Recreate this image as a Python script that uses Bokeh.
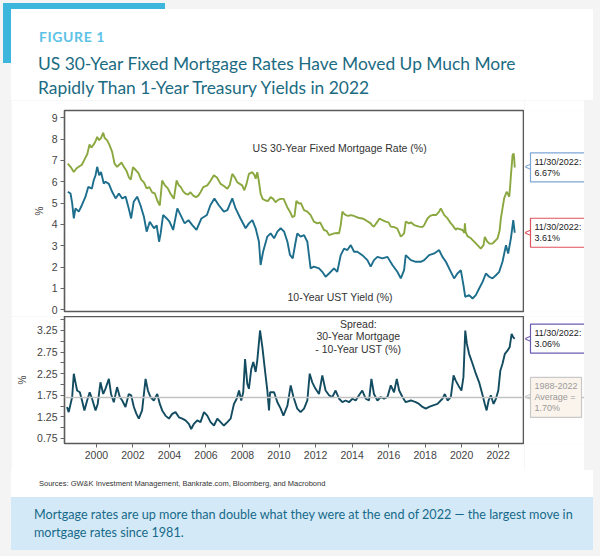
from bokeh.plotting import figure
from bokeh.models import Range1d, FixedTicker, Label, Span, Div
from bokeh.layouts import column, row
from bokeh.embed import file_html
from bokeh.resources import INLINE

# ---------------- data ----------------
mort_dates = [1998.43, 1998.58, 1998.76, 1998.90, 1999.03, 1999.20, 1999.35, 1999.50, 1999.62, 1999.72,
              1999.85, 1999.95, 2000.04, 2000.15, 2000.25, 2000.37, 2000.45, 2000.58, 2000.70, 2000.86,
              2000.99, 2001.13, 2001.25, 2001.38, 2001.50, 2001.65, 2001.78, 2001.88, 2002.00, 2002.15,
              2002.30, 2002.45, 2002.60, 2002.75, 2002.90, 2003.05, 2003.20, 2003.33, 2003.47, 2003.60,
              2003.75, 2003.90, 2004.05, 2004.24, 2004.39, 2004.50, 2004.62, 2004.75, 2004.88, 2005.02,
              2005.15, 2005.30, 2005.45, 2005.58, 2005.70, 2005.85, 2006.07, 2006.25, 2006.43, 2006.60,
              2006.80, 2006.98, 2007.17, 2007.30, 2007.44, 2007.58, 2007.71, 2007.85, 2007.98, 2008.10,
              2008.22, 2008.35, 2008.54, 2008.66, 2008.72, 2008.81, 2008.90, 2008.99, 2009.10, 2009.26,
              2009.40, 2009.54, 2009.68, 2009.81, 2009.95, 2010.09, 2010.25, 2010.45, 2010.60, 2010.73,
              2010.85, 2010.95, 2011.09, 2011.20, 2011.37, 2011.55, 2011.73, 2011.91, 2012.10, 2012.25,
              2012.46, 2012.60, 2012.74, 2012.90, 2013.01, 2013.19, 2013.29, 2013.38, 2013.47, 2013.56,
              2013.65, 2013.80, 2013.93, 2014.10, 2014.20, 2014.40, 2014.56, 2014.75, 2015.02, 2015.10,
              2015.20, 2015.39, 2015.50, 2015.66, 2015.84, 2016.00, 2016.12, 2016.30, 2016.48, 2016.67,
              2016.76, 2016.85, 2016.94, 2017.12, 2017.22, 2017.40, 2017.67, 2017.86, 2017.95, 2018.13,
              2018.28, 2018.40, 2018.60, 2018.77, 2018.86, 2018.95, 2019.04, 2019.23, 2019.41, 2019.50,
              2019.68, 2019.77, 2020.05, 2020.15, 2020.18, 2020.22, 2020.32, 2020.51, 2020.78, 2020.96,
              2021.05, 2021.20, 2021.27, 2021.40, 2021.51, 2021.69, 2021.79, 2021.97, 2022.08, 2022.15,
              2022.25, 2022.33, 2022.43, 2022.48, 2022.55, 2022.61, 2022.66, 2022.70, 2022.75, 2022.79,
              2022.85, 2022.88, 2022.91]
mort_vals = [6.85, 6.70, 6.46, 6.62, 6.70, 6.80, 7.05, 7.30, 7.75, 7.60,
             7.75, 7.90, 8.10, 7.95, 8.05, 8.30, 8.05, 7.95, 7.75, 7.40,
             6.85, 6.70, 6.80, 6.90, 6.70, 6.50, 6.20, 6.10, 6.68, 6.55,
             6.40, 6.10, 5.97, 5.69, 5.75, 5.50, 5.45, 5.12, 4.89, 6.06,
             5.83, 5.70, 5.45, 5.20, 6.06, 5.85, 5.75, 5.55, 5.44, 5.40,
             5.51, 5.35, 5.28, 5.35, 5.51, 5.75, 5.83, 6.05, 6.30, 6.20,
             5.90, 5.80, 5.67, 5.85, 6.37, 6.20, 5.98, 5.90, 5.83, 5.60,
             5.90, 6.37, 6.45, 6.30, 6.14, 6.45, 6.00, 5.44, 5.20, 5.12,
             5.10, 5.28, 5.20, 5.04, 5.15, 5.20, 5.20, 4.81, 4.60, 4.34,
             4.40, 5.10, 4.98, 5.00, 4.67, 4.60, 4.44, 4.13, 4.05, 4.10,
             3.74, 3.70, 3.50, 3.55, 3.58, 3.60, 3.58, 3.97, 4.60, 4.50,
             4.44, 4.40, 4.44, 4.40, 4.36, 4.30, 4.28, 4.20, 4.05, 3.95,
             3.90, 4.13, 4.28, 4.20, 4.13, 4.10, 3.90, 3.88, 3.80, 3.43,
             3.50, 3.58, 4.13, 4.05, 4.10, 3.97, 3.90, 3.88, 3.97, 4.28,
             4.40, 4.44, 4.44, 4.60, 4.75, 4.60, 4.45, 4.28, 4.05, 3.97,
             3.75, 3.82, 3.74, 3.60, 4.05, 3.65, 3.45, 3.35, 3.11, 2.95,
             2.87, 3.03, 3.42, 3.20, 3.11, 3.10, 3.19, 3.35, 3.70, 4.28,
             4.80, 5.22, 5.45, 5.53, 5.40, 5.30, 5.80, 6.30, 6.80, 7.25,
             7.33, 7.10, 6.67]

ust_dates = [1998.43, 1998.58, 1998.67, 1998.76, 1998.85, 1999.03, 1999.20, 1999.40, 1999.55, 1999.75,
             1999.85, 1999.95, 2000.04, 2000.15, 2000.25, 2000.40, 2000.50, 2000.68, 2000.86, 2001.05,
             2001.23, 2001.41, 2001.60, 2001.77, 2001.90, 2002.04, 2002.23, 2002.41, 2002.60, 2002.75,
             2002.92, 2003.15, 2003.30, 2003.43, 2003.52, 2003.65, 2003.85, 2004.00, 2004.20, 2004.43,
             2004.61, 2004.83, 2005.04, 2005.25, 2005.48, 2005.75, 2006.05, 2006.24, 2006.46, 2006.70,
             2006.98, 2007.17, 2007.44, 2007.62, 2007.89, 2008.17, 2008.35, 2008.54, 2008.72, 2008.90,
             2008.99, 2009.13, 2009.36, 2009.54, 2009.73, 2009.91, 2010.09, 2010.28, 2010.46, 2010.60,
             2010.75, 2010.91, 2011.00, 2011.18, 2011.37, 2011.55, 2011.73, 2011.91, 2012.19, 2012.37,
             2012.55, 2012.74, 2013.01, 2013.19, 2013.38, 2013.56, 2013.74, 2013.93, 2014.11, 2014.29,
             2014.56, 2014.84, 2015.02, 2015.20, 2015.39, 2015.66, 2015.94, 2016.21, 2016.48, 2016.67,
             2016.85, 2016.94, 2017.22, 2017.49, 2017.76, 2017.95, 2018.22, 2018.50, 2018.77, 2018.95,
             2019.14, 2019.41, 2019.59, 2019.77, 2019.96, 2020.10, 2020.20, 2020.41, 2020.60, 2020.78,
             2020.96, 2021.15, 2021.33, 2021.51, 2021.69, 2021.88, 2022.06, 2022.24, 2022.43, 2022.55,
             2022.70, 2022.83, 2022.91]
ust_vals = [5.53, 5.45, 5.00, 4.28, 4.75, 4.60, 4.90, 5.30, 5.76, 5.68,
            6.07, 6.30, 6.70, 6.30, 6.46, 5.92, 6.00, 5.90, 5.53, 5.22,
            5.45, 5.22, 5.30, 4.75, 4.28, 5.06, 5.30, 4.90, 4.36, 3.66,
            4.13, 3.82, 3.95, 3.19, 3.60, 4.44, 4.28, 4.13, 3.74, 4.75,
            4.44, 4.05, 4.20, 3.97, 3.74, 4.28, 4.44, 4.90, 5.22, 4.90,
            4.60, 4.67, 5.22, 4.75, 4.28, 3.82, 4.05, 4.20, 3.82, 3.19,
            2.10, 2.73, 3.43, 3.58, 3.35, 3.66, 3.82, 3.66, 3.19, 2.57,
            2.41, 3.19, 3.58, 3.43, 3.50, 3.19, 1.94, 2.02, 1.94, 1.78,
            1.55, 1.70, 1.94, 1.78, 2.56, 2.87, 2.80, 3.03, 2.72, 2.72,
            2.56, 2.33, 2.02, 2.33, 2.48, 2.41, 2.48, 2.10, 1.78, 1.47,
            1.86, 2.56, 2.33, 2.25, 2.25, 2.33, 2.56, 2.64, 2.80, 2.48,
            2.25, 1.78, 1.47, 1.70, 1.85, 1.16, 0.61, 0.69, 0.53, 0.69,
            1.00, 1.31, 1.70, 1.55, 1.47, 1.62, 1.78, 2.25, 3.03, 2.64,
            3.35, 4.20, 3.61]

spread_dates = [1998.39, 1998.48, 1998.67, 1998.76, 1998.85, 1998.94, 1999.09, 1999.21, 1999.34, 1999.49,
                1999.63, 1999.76, 1999.95, 2000.07, 2000.22, 2000.37, 2000.49, 2000.68, 2000.80, 2000.95,
                2001.13, 2001.28, 2001.41, 2001.59, 2001.77, 2001.90, 2002.05, 2002.19, 2002.32, 2002.50,
                2002.69, 2002.82, 2002.96, 2003.14, 2003.33, 2003.47, 2003.60, 2003.78, 2003.97, 2004.15,
                2004.33, 2004.52, 2004.70, 2004.88, 2005.06, 2005.19, 2005.34, 2005.52, 2005.70, 2005.89,
                2006.07, 2006.25, 2006.44, 2006.62, 2006.80, 2006.98, 2007.17, 2007.35, 2007.53, 2007.68,
                2007.81, 2007.93, 2008.04, 2008.14, 2008.26, 2008.35, 2008.48, 2008.59, 2008.72, 2008.81,
                2008.96, 2009.09, 2009.21, 2009.36, 2009.45, 2009.51, 2009.73, 2009.91, 2010.09, 2010.24,
                2010.46, 2010.64, 2010.79, 2011.00, 2011.18, 2011.37, 2011.55, 2011.68, 2011.82, 2012.00,
                2012.19, 2012.37, 2012.55, 2012.74, 2012.92, 2013.10, 2013.29, 2013.47, 2013.65, 2013.83,
                2014.02, 2014.20, 2014.38, 2014.56, 2014.75, 2014.93, 2015.06, 2015.20, 2015.39, 2015.57,
                2015.75, 2015.94, 2016.12, 2016.30, 2016.45, 2016.58, 2016.76, 2016.94, 2017.22, 2017.49,
                2017.67, 2017.86, 2018.04, 2018.22, 2018.40, 2018.68, 2018.95, 2019.08, 2019.23, 2019.41,
                2019.56, 2019.68, 2019.87, 2019.99, 2020.10, 2020.20, 2020.29, 2020.41, 2020.60, 2020.78,
                2020.96, 2021.15, 2021.27, 2021.37, 2021.48, 2021.60, 2021.75, 2021.88, 2022.01, 2022.12,
                2022.24, 2022.37, 2022.52, 2022.63, 2022.74, 2022.83, 2022.91]
spread_vals = [1.48, 1.36, 1.71, 2.25, 2.05, 1.86, 1.82, 1.63, 1.40, 1.63,
               1.82, 1.67, 1.40, 1.55, 2.05, 1.78, 1.90, 2.13, 1.78, 1.59,
               1.94, 1.71, 1.63, 1.48, 1.78, 1.75, 1.48, 1.32, 1.21, 1.40,
               2.13, 1.86, 1.71, 1.63, 1.78, 1.55, 1.40, 1.28, 1.21, 1.32,
               1.36, 1.24, 1.21, 1.17, 1.09, 0.97, 1.09, 1.17, 1.13, 1.36,
               1.28, 1.13, 1.05, 1.21, 1.13, 1.05, 1.13, 1.21, 1.55, 1.67,
               1.86, 1.63, 1.82, 2.59, 2.02, 1.90, 2.36, 2.52, 2.29, 2.56,
               3.25, 2.86, 2.40, 1.86, 1.40, 1.82, 1.82, 1.59, 1.44, 1.28,
               1.51, 1.98, 1.71, 1.44, 1.36, 1.44, 1.63, 2.25, 2.05, 1.90,
               1.78, 2.21, 1.86, 1.75, 1.71, 1.86, 1.67, 1.59, 1.63, 1.59,
               1.67, 1.63, 1.75, 1.86, 1.67, 1.63, 2.13, 1.78, 1.63, 1.71,
               1.67, 1.71, 1.98, 1.82, 2.13, 1.86, 1.71, 1.59, 1.63, 1.59,
               1.55, 1.48, 1.44, 1.48, 1.51, 1.55, 1.67, 1.78, 1.63, 1.71,
               2.21, 2.09, 1.94, 1.86, 2.17, 3.25, 2.94, 2.71, 2.48, 2.25,
               2.05, 1.75, 1.55, 1.40, 1.63, 1.75, 1.55, 1.67, 1.86, 2.32,
               2.48, 2.71, 2.79, 2.86, 3.17, 3.09, 3.06]

spread_avg = 1.70
avg_period = "1988-2022"
last_date_text = "11/30/2022"
x_ticks = [2000, 2002, 2004, 2006, 2008, 2010, 2012, 2014, 2016, 2018, 2020, 2022]
top_ticks = [0, 1, 2, 3, 4, 5, 6, 7, 8, 9]
spread_ticks = [0.75, 1.25, 1.75, 2.25, 2.75, 3.25]
spread_minor = [1.0, 1.5, 2.0, 2.5, 3.0, 3.5]

FONT = "Liberation Sans"
C_MORT = "#8aa83f"
C_UST = "#1c6e8c"
C_SPREAD = "#134c60"
FRAME = "#5a5a5a"

x_range = Range1d(1998.25, 2023.39)
top_range = Range1d(-0.08, 9.34)
spread_range = Range1d(0.634, 3.574)


def base_fig(height, y_range, top, bottom, with_x):
    p = figure(width=513, height=height, x_range=x_range, y_range=y_range,
               output_backend="svg", toolbar_location=None,
               x_axis_location="below" if with_x else None,
               min_border_left=53, min_border_right=1,
               min_border_top=top, min_border_bottom=bottom,
               background_fill_color="white", border_fill_color="white",
               outline_line_color=FRAME, outline_line_width=1.6)
    p.margin = (0, 0, 0, 11)
    p.xgrid.visible = False
    p.ygrid.visible = False
    for ax in p.axis:
        ax.axis_line_color = None
        ax.major_tick_in = 0
        ax.major_tick_out = 4
        ax.minor_tick_in = 0
        ax.minor_tick_out = 4
        ax.major_tick_line_color = "#666666"
        ax.minor_tick_line_color = "#666666"
        ax.major_label_text_font = FONT
        ax.major_label_text_font_size = "10.5px"
        ax.major_label_text_color = "#444444"
        ax.major_label_standoff = 3
        ax.axis_label_text_font = FONT
        ax.axis_label_text_font_size = "10px"
        ax.axis_label_text_font_style = "normal"
        ax.axis_label_text_color = "#444444"
    return p


def side_fig(height, y_range, top, bottom):
    s = figure(width=60, height=height, x_range=Range1d(0, 60), y_range=y_range,
               output_backend="svg", toolbar_location=None,
               x_axis_location=None, y_axis_location=None,
               min_border_left=0, min_border_right=0,
               min_border_top=top, min_border_bottom=bottom,
               background_fill_color="white", border_fill_color="white",
               outline_line_color=None)
    s.margin = (0, 16, 0, 0)
    s.xgrid.visible = False
    s.ygrid.visible = False
    return s


def callout(s, y, text, border, fill="white", color="#222222"):
    s.add_layout(Label(x=0, y=y, x_offset=0, text="<", anchor="center_left",
                       text_font=FONT, text_font_size="12px", text_color=border))
    s.add_layout(Label(x=0, y=y, x_offset=6, text=text, anchor="center_left",
                       text_font=FONT, text_font_size="9px", text_color=color,
                       text_line_height=1.1, padding=4,
                       border_line_color=border, border_line_width=1.2,
                       background_fill_color=fill))


# ---------------- top panel ----------------
p1 = base_fig(216, top_range, 10, 5, False)
p1.yaxis.ticker = FixedTicker(ticks=top_ticks, minor_ticks=[])
p1.yaxis.axis_label = "%"
p1.yaxis.axis_label_standoff = 4
p1.line(mort_dates, mort_vals, line_color=C_MORT, line_width=1.9)
p1.line(ust_dates, ust_vals, line_color=C_UST, line_width=1.9)
p1.add_layout(Label(x=2013.32, y=7.56, text="US 30-Year Fixed Mortgage Rate (%)",
                    text_align="center", text_baseline="middle", text_font=FONT,
                    text_font_size="10.5px", text_color="#333333"))
p1.add_layout(Label(x=2013.35, y=0.62, text="10-Year UST Yield (%)",
                    text_align="center", text_baseline="middle", text_font=FONT,
                    text_font_size="10.5px", text_color="#333333"))
s1 = side_fig(216, top_range, 10, 5)
callout(s1, mort_vals[-1], f"{last_date_text}:\n{mort_vals[-1]:.2f}%", "#7ea6d6")
callout(s1, ust_vals[-1], f"{last_date_text}:\n{ust_vals[-1]:.2f}%", "#e0525e")

# ---------------- bottom panel ----------------
p2 = base_fig(154, spread_range, 0, 27, True)
p2.xaxis.ticker = FixedTicker(ticks=x_ticks, minor_ticks=[])
p2.yaxis.ticker = FixedTicker(ticks=spread_ticks, minor_ticks=spread_minor)
p2.yaxis.axis_label = "%"
p2.yaxis.axis_label_standoff = 6
p2.add_layout(Span(location=spread_avg, dimension="width", line_color="#c2c2c2", line_width=1.5))
p2.line(spread_dates, spread_vals, line_color=C_SPREAD, line_width=1.9)
p2.add_layout(Label(x=2014.34, y=3.12, text="Spread:\n30-Year Mortgage\n- 10-Year UST (%)",
                    anchor="center", text_align="center", text_font=FONT,
                    text_font_size="10.5px", text_line_height=1.05, text_color="#333333"))
s2 = side_fig(154, spread_range, 0, 27)
s2.add_layout(Span(location=spread_avg, dimension="width", line_color="#c2c2c2", line_width=1.5))
callout(s2, spread_vals[-1], f"{last_date_text}:\n{spread_vals[-1]:.2f}%", "#6c5bb0")
callout(s2, spread_avg, f"{avg_period}\nAverage =\n{spread_avg:.2f}%", "#c9c9c9",
        fill="#fbf4ec", color="#9a9a9a")

# ---------------- header / footer ----------------
header = Div(width=600, height=100, margin=0, text="""
<div style="position:relative;width:600px;height:100px;background:#f4f4f4;overflow:hidden;font-family:Lato,sans-serif;">
 <div style="position:absolute;left:3px;top:3px;width:162px;height:7px;background:#3db6dd;"></div>
 <div style="position:absolute;left:3px;top:3px;width:8px;height:60px;background:#3db6dd;"></div>
 <div style="position:absolute;left:11px;top:9px;width:582px;height:91px;background:#ffffff;"></div>
 <div style="position:absolute;left:39px;top:29px;font-size:14px;font-weight:700;letter-spacing:0.6px;color:#5cc2e6;line-height:16px;">FIGURE 1</div>
 <div style="position:absolute;left:38px;top:52px;font-size:17.4px;color:#1b6b82;line-height:24px;white-space:nowrap;">US 30-Year Fixed Mortgage Rates Have Moved Up Much More<br>Rapidly Than 1-Year Treasury Yields in 2022</div>
</div>""")

sources = Div(width=600, height=27, margin=0, text="""
<div style="position:relative;width:600px;height:27px;background:#f4f4f4;overflow:hidden;">
 <div style="position:absolute;left:11px;top:0;width:582px;height:27px;background:#ffffff;"></div>
 <div style="position:absolute;left:39px;top:9px;font-family:'Liberation Sans',sans-serif;font-size:7.5px;line-height:10px;color:#333333;white-space:nowrap;">Sources: GW&amp;K Investment Management, Bankrate.com, Bloomberg, and Macrobond</div>
</div>""")

footer = Div(width=600, height=59, margin=0, text="""
<div style="position:relative;width:600px;height:59px;background:#f4f4f4;overflow:hidden;font-family:Lato,sans-serif;">
 <div style="position:absolute;left:11px;top:0;width:582px;height:53px;background:#d3e9f7;"></div>
 <div style="position:absolute;left:34px;top:9px;font-size:12.6px;line-height:18px;color:#17698a;white-space:nowrap;">Mortgage rates are up more than double what they were at the end of 2022 — the largest move in<br>mortgage rates since 1981.</div>
</div>""")

top_row = row(p1, s1, spacing=0)
bottom_row = row(p2, s2, spacing=0)
layout = column(header, top_row, bottom_row, sources, footer, spacing=0,
                styles={"background-color": "#f4f4f4"})

open("out.html", "w").write(file_html(layout, INLINE))
